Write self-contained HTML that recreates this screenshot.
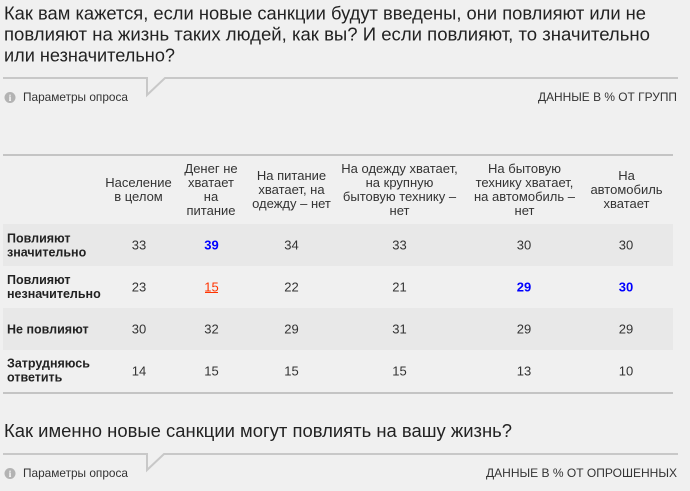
<!DOCTYPE html>
<html><head><meta charset="utf-8">
<style>
html,body{margin:0;padding:0;background:#f0f0f0;}
body{width:690px;height:491px;overflow:hidden;}
svg{display:block;}
.t{font-family:"Liberation Sans","Noto Sans CJK SC",sans-serif;font-size:18px;fill:#222;}
.s{font-family:"Liberation Sans",sans-serif;font-size:12px;fill:#333;}
.h{font-family:"Liberation Sans",sans-serif;font-size:13px;fill:#333;text-anchor:middle;}
.n{font-family:"Liberation Sans",sans-serif;font-size:13px;fill:#333;text-anchor:middle;}
.l{font-family:"Liberation Sans",sans-serif;font-size:12.5px;font-weight:bold;fill:#222;}
.b{fill:#0000ff;font-weight:bold;}
.r{fill:#ff3300;}
</style></head>
<body>
<svg width="690" height="491" viewBox="0 0 690 491" xmlns="http://www.w3.org/2000/svg">
<rect width="690" height="491" fill="#f0f0f0"/>

<!-- Title 1 -->
<text class="t" x="4" y="19.5" textLength="642" lengthAdjust="spacingAndGlyphs">Как вам кажется, если новые санкции будут введены, они повлияют или не</text>
<text class="t" x="4" y="40.5" textLength="646" lengthAdjust="spacingAndGlyphs">повлияют на жизнь таких людей, как вы? И если повлияют, то значительно</text>
<text class="t" x="4" y="61.5" textLength="171" lengthAdjust="spacingAndGlyphs">или незначительно?</text>

<!-- separator 1 -->
<path d="M3 78 H147 V95 L165 78 H678" fill="none" stroke="#c8c8c8" stroke-width="2"/>
<circle cx="10" cy="97.5" r="5.5" fill="#b3b3b3"/>
<text x="10" y="101" font-family="Liberation Serif,serif" font-size="9" font-weight="bold" fill="#fff" text-anchor="middle">i</text>
<text class="s" x="23" y="101" textLength="105" lengthAdjust="spacingAndGlyphs">Параметры опроса</text>
<text class="s" x="538" y="101" textLength="139" lengthAdjust="spacingAndGlyphs">ДАННЫЕ В % ОТ ГРУПП</text>

<!-- table -->
<rect x="3" y="154" width="670" height="2" fill="#c4c4c4"/>
<rect x="3" y="224" width="670" height="42" fill="#e8e8e8"/>
<rect x="3" y="308" width="670" height="42" fill="#e8e8e8"/>
<rect x="3" y="392" width="670" height="2" fill="#c4c4c4"/>

<!-- header -->
<text class="h" x="138.5" y="187">Население</text>
<text class="h" x="138.5" y="201">в целом</text>

<text class="h" x="211" y="173">Денег не</text>
<text class="h" x="211" y="187">хватает</text>
<text class="h" x="211" y="201">на</text>
<text class="h" x="211" y="215">питание</text>

<text class="h" x="291.5" y="180">На питание</text>
<text class="h" x="291.5" y="194">хватает, на</text>
<text class="h" x="291.5" y="208">одежду – нет</text>

<text class="h" x="399.5" y="173">На одежду хватает,</text>
<text class="h" x="399.5" y="187">на крупную</text>
<text class="h" x="399.5" y="201">бытовую технику –</text>
<text class="h" x="399.5" y="215">нет</text>

<text class="h" x="524.5" y="173">На бытовую</text>
<text class="h" x="524.5" y="187">технику хватает,</text>
<text class="h" x="524.5" y="201">на автомобиль –</text>
<text class="h" x="524.5" y="215">нет</text>

<text class="h" x="626.5" y="180">На</text>
<text class="h" x="626.5" y="194">автомобиль</text>
<text class="h" x="626.5" y="208">хватает</text>

<!-- row labels -->
<text class="l" x="7" y="242.5">Повлияют</text>
<text class="l" x="7" y="256.5">значительно</text>
<text class="l" x="7" y="284">Повлияют</text>
<text class="l" x="7" y="298">незначительно</text>
<text class="l" x="7" y="333.5">Не повлияют</text>
<text class="l" x="7" y="367.5">Затрудняюсь</text>
<text class="l" x="7" y="381.5">ответить</text>

<!-- row 1 -->
<text class="n" x="139" y="249.5">33</text>
<text class="n b" x="211.5" y="249.5">39</text>
<text class="n" x="291.5" y="249.5">34</text>
<text class="n" x="399.5" y="249.5">33</text>
<text class="n" x="524" y="249.5">30</text>
<text class="n" x="626" y="249.5">30</text>

<!-- row 2 -->
<text class="n" x="139" y="291.5">23</text>
<text class="n r" x="211.5" y="291.5">15</text>
<rect x="205" y="292" width="13" height="1" fill="#ff3300"/>
<text class="n" x="291.5" y="291.5">22</text>
<text class="n" x="399.5" y="291.5">21</text>
<text class="n b" x="524" y="291.5">29</text>
<text class="n b" x="626" y="291.5">30</text>

<!-- row 3 -->
<text class="n" x="139" y="333.5">30</text>
<text class="n" x="211.5" y="333.5">32</text>
<text class="n" x="291.5" y="333.5">29</text>
<text class="n" x="399.5" y="333.5">31</text>
<text class="n" x="524" y="333.5">29</text>
<text class="n" x="626" y="333.5">29</text>

<!-- row 4 -->
<text class="n" x="139" y="375.5">14</text>
<text class="n" x="211.5" y="375.5">15</text>
<text class="n" x="291.5" y="375.5">15</text>
<text class="n" x="399.5" y="375.5">15</text>
<text class="n" x="524" y="375.5">13</text>
<text class="n" x="626" y="375.5">10</text>

<!-- Title 2 -->
<text class="t" x="4" y="437" textLength="508" lengthAdjust="spacingAndGlyphs">Как именно новые санкции могут повлиять на вашу жизнь?</text>

<!-- separator 2 -->
<path d="M3 454 H147 V470 L164 454 H678" fill="none" stroke="#c8c8c8" stroke-width="2"/>
<circle cx="10" cy="473.5" r="5.5" fill="#b3b3b3"/>
<text x="10" y="477" font-family="Liberation Serif,serif" font-size="9" font-weight="bold" fill="#fff" text-anchor="middle">i</text>
<text class="s" x="23" y="477" textLength="105" lengthAdjust="spacingAndGlyphs">Параметры опроса</text>
<text class="s" x="486" y="477" textLength="191" lengthAdjust="spacingAndGlyphs">ДАННЫЕ В % ОТ ОПРОШЕННЫХ</text>
</svg>
</body></html>
